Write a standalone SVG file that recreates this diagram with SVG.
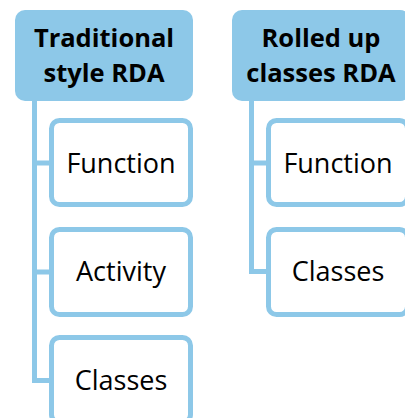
<svg xmlns="http://www.w3.org/2000/svg" width="405" height="418" viewBox="0 0 405 418">
<style>
.hdr{fill:#8DC8E8;}
.child{fill:#FFFFFF;stroke:#8DC8E8;stroke-width:5;}
.conn{fill:none;stroke:#8DC8E8;stroke-width:5;}
.ht{font-family:"Open Sans","Liberation Sans",sans-serif;font-weight:bold;font-size:25.5px;fill:#000;text-anchor:middle;}
.ct{font-family:"Open Sans","Liberation Sans",sans-serif;font-size:27px;fill:#000;text-anchor:middle;}
</style>
<rect width="405" height="418" fill="#FFFFFF"/>
<g id="connectors">
<path class="conn" d="M34.5 100 V380.5 H52 M34.5 163 H52 M34.5 272 H52"/>
<path class="conn" d="M251.5 100 V271.5 H269 M251.5 163 H269"/>
</g>
<g id="header-traditional">
<rect class="hdr" x="15" y="10" width="178" height="91" rx="10"/>
<text class="ht" x="104" y="47">Traditional</text>
<text class="ht" x="104" y="82">style RDA</text>
</g>
<g id="node-function-1">
<rect class="child" x="51.5" y="120.5" width="139" height="84" rx="8"/>
<text class="ct" x="121" y="173">Function</text>
</g>
<g id="node-activity">
<rect class="child" x="51.5" y="229.5" width="139" height="85" rx="8"/>
<text class="ct" x="121" y="281">Activity</text>
</g>
<g id="node-classes-1">
<rect class="child" x="51.5" y="337.5" width="139" height="85" rx="8"/>
<text class="ct" x="121" y="390">Classes</text>
</g>
<g id="header-rolled">
<rect class="hdr" x="232" y="10" width="178" height="91" rx="10"/>
<text class="ht" x="321" y="47">Rolled up</text>
<text class="ht" x="321" y="82">classes RDA</text>
</g>
<g id="node-function-2">
<rect class="child" x="268.5" y="120.5" width="139" height="84" rx="8"/>
<text class="ct" x="338" y="173">Function</text>
</g>
<g id="node-classes-2">
<rect class="child" x="268.5" y="229.5" width="139" height="85" rx="8"/>
<text class="ct" x="338" y="281">Classes</text>
</g>
</svg>
